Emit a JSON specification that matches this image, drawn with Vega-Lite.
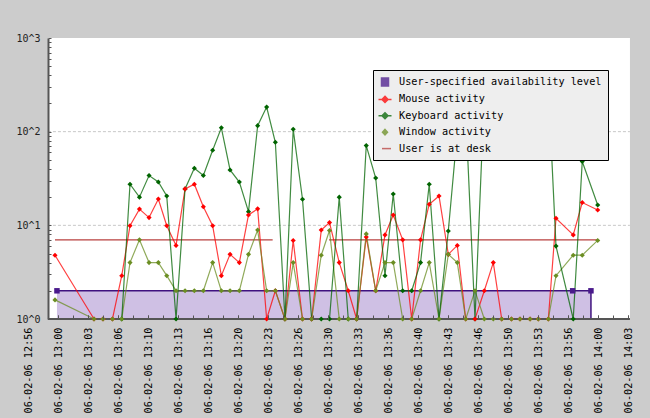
{
  "$schema": "https://vega.github.io/schema/vega-lite/v6.json",
  "width": 602,
  "height": 281,
  "autosize": {"type": "none"},
  "padding": {"left": 28, "top": 38, "right": 20, "bottom": 99},
  "background": "#cccccc",
  "config": {"view": {"stroke": null, "fill": null}, "font": "DejaVu Sans Mono"},
  "resolve": {"scale": {"x": "shared"}, "axis": {"x": "independent"}},
  "datasets": {
    "plot": [{"t": "2006-02-06T12:58:53Z", "t2": "2006-02-06T14:03:33Z"}],
    "grid": [
      {"t": "2006-02-06T12:58:53Z", "t2": "2006-02-06T14:03:33Z", "v": 10},
      {"t": "2006-02-06T12:58:53Z", "t2": "2006-02-06T14:03:33Z", "v": 100}
    ],
    "avail": [
      {"t": "2006-02-06T12:59:53Z", "v": 2},
      {"t": "2006-02-06T13:57:11Z", "v": 2},
      {"t": "2006-02-06T13:59:13Z", "v": 2}
    ],
    "desk": [
      {"t": "2006-02-06T12:59:40Z", "t2": "2006-02-06T13:23:51Z", "v": 7},
      {"t": "2006-02-06T13:30:07Z", "t2": "2006-02-06T14:00:00Z", "v": 7}
    ],
    "act": [
      {"t":"2006-02-06T12:59:40Z","Mouse activity":4.8,"Window activity":1.6},
      {"t":"2006-02-06T13:04:00Z","Mouse activity":1,"Window activity":1},
      {"t":"2006-02-06T13:05:00Z","Mouse activity":1,"Window activity":1},
      {"t":"2006-02-06T13:06:03Z","Mouse activity":1,"Window activity":1},
      {"t":"2006-02-06T13:07:05Z","Mouse activity":2.9,"Keyboard activity":1,"Window activity":1},
      {"t":"2006-02-06T13:08:00Z","Mouse activity":9.9,"Keyboard activity":27.5,"Window activity":4},
      {"t":"2006-02-06T13:09:03Z","Mouse activity":14.9,"Keyboard activity":20,"Window activity":7},
      {"t":"2006-02-06T13:10:07Z","Mouse activity":12.1,"Keyboard activity":34,"Window activity":4},
      {"t":"2006-02-06T13:11:09Z","Mouse activity":19.1,"Keyboard activity":29,"Window activity":4},
      {"t":"2006-02-06T13:12:05Z","Mouse activity":9.9,"Keyboard activity":20.6,"Window activity":2.9},
      {"t":"2006-02-06T13:13:07Z","Mouse activity":6.1,"Keyboard activity":1,"Window activity":2},
      {"t":"2006-02-06T13:14:07Z","Mouse activity":24.5,"Keyboard activity":24.5,"Window activity":2},
      {"t":"2006-02-06T13:15:09Z","Mouse activity":27.5,"Keyboard activity":40.7,"Window activity":2},
      {"t":"2006-02-06T13:16:09Z","Mouse activity":15.8,"Keyboard activity":34,"Window activity":2},
      {"t":"2006-02-06T13:17:11Z","Mouse activity":9.9,"Keyboard activity":63.4,"Window activity":4},
      {"t":"2006-02-06T13:18:09Z","Mouse activity":2.9,"Keyboard activity":110,"Window activity":2},
      {"t":"2006-02-06T13:19:07Z","Mouse activity":4.9,"Keyboard activity":39,"Window activity":2},
      {"t":"2006-02-06T13:20:09Z","Mouse activity":4,"Keyboard activity":29,"Window activity":2},
      {"t":"2006-02-06T13:21:10Z","Mouse activity":12.9,"Keyboard activity":14,"Window activity":4.9},
      {"t":"2006-02-06T13:22:11Z","Mouse activity":15,"Keyboard activity":116,"Window activity":8.9},
      {"t":"2006-02-06T13:23:11Z","Mouse activity":1,"Keyboard activity":183,"Window activity":2},
      {"t":"2006-02-06T13:24:09Z","Mouse activity":2,"Keyboard activity":77,"Window activity":2},
      {"t":"2006-02-06T13:25:13Z","Mouse activity":1,"Keyboard activity":1,"Window activity":1},
      {"t":"2006-02-06T13:26:08Z","Mouse activity":6.9,"Keyboard activity":106,"Window activity":4},
      {"t":"2006-02-06T13:27:10Z","Mouse activity":1,"Keyboard activity":19,"Window activity":1},
      {"t":"2006-02-06T13:28:11Z","Mouse activity":1,"Keyboard activity":1,"Window activity":1},
      {"t":"2006-02-06T13:29:15Z","Mouse activity":8.9,"Keyboard activity":1,"Window activity":4.8},
      {"t":"2006-02-06T13:30:10Z","Mouse activity":10.7,"Keyboard activity":1,"Window activity":8.8},
      {"t":"2006-02-06T13:31:15Z","Mouse activity":4,"Keyboard activity":20,"Window activity":1},
      {"t":"2006-02-06T13:32:15Z","Mouse activity":2,"Keyboard activity":1,"Window activity":1},
      {"t":"2006-02-06T13:33:11Z","Mouse activity":1,"Keyboard activity":1,"Window activity":1},
      {"t":"2006-02-06T13:34:15Z","Mouse activity":7.5,"Keyboard activity":71,"Window activity":8.1},
      {"t":"2006-02-06T13:35:18Z","Mouse activity":2,"Keyboard activity":32,"Window activity":2},
      {"t":"2006-02-06T13:36:20Z","Mouse activity":7.9,"Keyboard activity":2.9,"Window activity":4},
      {"t":"2006-02-06T13:37:15Z","Mouse activity":12.9,"Keyboard activity":21.6,"Window activity":4},
      {"t":"2006-02-06T13:38:18Z","Mouse activity":7,"Keyboard activity":2,"Window activity":1},
      {"t":"2006-02-06T13:39:18Z","Mouse activity":1,"Keyboard activity":2,"Window activity":1},
      {"t":"2006-02-06T13:40:17Z","Mouse activity":7,"Keyboard activity":4,"Window activity":2},
      {"t":"2006-02-06T13:41:15Z","Mouse activity":16.8,"Keyboard activity":27.5,"Window activity":4},
      {"t":"2006-02-06T13:42:20Z","Mouse activity":20.6,"Keyboard activity":1,"Window activity":1},
      {"t":"2006-02-06T13:43:22Z","Mouse activity":4.9,"Keyboard activity":8.7,"Window activity":4.9},
      {"t":"2006-02-06T13:44:22Z","Mouse activity":6.1,"Keyboard activity":100,"Window activity":4},
      {"t":"2006-02-06T13:45:18Z","Mouse activity":1,"Keyboard activity":161,"Window activity":1},
      {"t":"2006-02-06T13:46:20Z","Mouse activity":1,"Keyboard activity":1,"Window activity":2},
      {"t":"2006-02-06T13:47:22Z","Mouse activity":2,"Keyboard activity":253,"Window activity":1},
      {"t":"2006-02-06T13:48:22Z","Mouse activity":4,"Window activity":1},
      {"t":"2006-02-06T13:49:18Z","Mouse activity":1,"Window activity":1},
      {"t":"2006-02-06T13:50:23Z","Mouse activity":1,"Window activity":1},
      {"t":"2006-02-06T13:51:20Z","Mouse activity":1,"Window activity":1},
      {"t":"2006-02-06T13:52:27Z","Mouse activity":1,"Window activity":1},
      {"t":"2006-02-06T13:53:22Z","Mouse activity":1,"Window activity":1},
      {"t":"2006-02-06T13:54:29Z","Mouse activity":1,"Keyboard activity":309,"Window activity":1},
      {"t":"2006-02-06T13:55:20Z","Mouse activity":11.9,"Keyboard activity":6,"Window activity":2.9},
      {"t":"2006-02-06T13:57:15Z","Mouse activity":7.9,"Keyboard activity":1,"Window activity":4.8},
      {"t":"2006-02-06T13:58:15Z","Mouse activity":17.5,"Keyboard activity":48,"Window activity":4.8},
      {"t":"2006-02-06T13:59:58Z","Mouse activity":14.6,"Keyboard activity":16.5,"Window activity":6.9}
    ]
  },
  "layer": [
    {
      "data": {"name": "plot"},
      "mark": {"type": "rect", "fill": "#ffffff"},
      "encoding": {
        "x": {
          "field": "t", "type": "temporal", "title": null,
          "scale": {"type": "utc", "domain": [1139230600000, 1139234613333]},
          "axis": {
            "orient": "bottom",
            "values": [1139230600000,1139230800000,1139231000000,1139231200000,1139231400000,1139231600000,1139231800000,1139232000000,1139232200000,1139232400000,1139232600000,1139232800000,1139233000000,1139233200000,1139233400000,1139233600000,1139233800000,1139234000000,1139234200000,1139234400000,1139234600000],
            "labelExpr": "utcFormat(datum.value, '%y-%m-%d %H:%M')",
            "labelAngle": 270,
            "labelFont": "DejaVu Sans Mono",
            "labelFontSize": 10.2,
            "labelColor": "#000000",
            "labelPadding": 12,
            "labelOverlap": false,
            "labelFlush": false,
            "domain": false,
            "grid": false,
            "tickColor": "#555555",
            "tickSize": -4,
            "tickWidth": 1,
            "tickOpacity": {"condition": {"test": "+datum.value < 1139230733000", "value": 0}, "value": 1},
            "zindex": 1
          }
        },
        "x2": {"field": "t2"},
        "y": {
          "datum": 1, "type": "quantitative", "title": null,
          "scale": {"type": "log", "domain": [1, 1000], "nice": false},
          "axis": {
            "values": [1,2,3,4,5,6,7,8,9,10,20,30,40,50,60,70,80,90,100,200,300,400,500,600,700,800,900,1000],
            "labelExpr": "datum.value == 1 ? '10^0' : datum.value == 10 ? '10^1' : datum.value == 100 ? '10^2' : datum.value == 1000 ? '10^3' : ''",
            "offset": -20,
            "domainColor": "#555555",
            "domainWidth": 2,
            "tickColor": "#555555",
            "tickSize": -3,
            "labelFont": "DejaVu Sans Mono",
            "labelFontSize": 10,
            "labelColor": "#222222",
            "labelPadding": 11,
            "labelOverlap": false,
            "labelFlush": false,
            "grid": false,
            "zindex": 1
          }
        },
        "y2": {"datum": 1000}
      }
    },
    {
      "data": {"name": "grid"},
      "mark": {"type": "rule", "color": "#c8c8c8", "strokeDash": [3, 2], "strokeWidth": 1},
      "encoding": {
        "x": {
          "field": "t", "type": "temporal", "title": null,
          "axis": {
            "orient": "bottom",
            "values": [1139230600000,1139230700000,1139230800000,1139230900000,1139231000000,1139231100000,1139231200000,1139231300000,1139231400000,1139231500000,1139231600000,1139231700000,1139231800000,1139231900000,1139232000000,1139232100000,1139232200000,1139232300000,1139232400000,1139232500000,1139232600000,1139232700000,1139232800000,1139232900000,1139233000000,1139233100000,1139233200000,1139233300000,1139233400000,1139233500000,1139233600000,1139233700000,1139233800000,1139233900000,1139234000000,1139234100000,1139234200000,1139234300000,1139234400000,1139234500000,1139234600000],
            "labels": false,
            "domain": false,
            "grid": false,
            "tickColor": "#555555",
            "tickSize": -4,
            "tickWidth": 1,
            "tickOpacity": {"condition": {"test": "+datum.value < 1139230733000", "value": 0}, "value": 1},
            "zindex": 1
          }
        },
        "x2": {"field": "t2"},
        "y": {"field": "v", "type": "quantitative", "title": null}
      }
    },
    {
      "data": {"name": "avail"},
      "mark": {"type": "area", "fill": "#cfc0e4", "opacity": 1, "line": {"color": "#3f127f", "strokeWidth": 1.5}},
      "encoding": {
        "x": {"field": "t", "type": "temporal", "title": null, "axis": null},
        "y": {"field": "v", "type": "quantitative", "title": null},
        "y2": {"datum": 1}
      }
    },
    {
      "data": {"name": "avail"},
      "mark": {"type": "rule", "color": "#3f127f", "strokeWidth": 1.5},
      "encoding": {
        "x": {"aggregate": "max", "field": "t", "type": "temporal", "title": null, "axis": null},
        "y": {"aggregate": "max", "field": "v", "type": "quantitative", "title": null},
        "y2": {"datum": 1}
      }
    },
    {
      "data": {"name": "desk"},
      "mark": {"type": "rule", "color": "#b8413f", "strokeWidth": 1.3},
      "encoding": {
        "x": {"field": "t", "type": "temporal", "title": null, "axis": null},
        "x2": {"field": "t2"},
        "y": {"field": "v", "type": "quantitative", "title": null}
      }
    },
    {
      "data": {"name": "act"},
      "transform": [
        {"fold": ["Keyboard activity", "Mouse activity", "Window activity"], "as": ["s", "v"]},
        {"filter": "isValid(datum.v)"}
      ],
      "mark": {"type": "line", "strokeWidth": 1.2, "opacity": 0.75},
      "encoding": {
        "x": {"field": "t", "type": "temporal", "title": null, "axis": null},
        "y": {"field": "v", "type": "quantitative", "title": null},
        "color": {
          "field": "s", "type": "nominal",
          "scale": {
            "domain": ["User-specified availability level", "Mouse activity", "Keyboard activity", "Window activity", "User is at desk"],
            "range": ["#4a1a8c", "#ff0000", "#006400", "#6b8e23", "#b8413f"]
          }
        }
      }
    },
    {
      "data": {"name": "plot"},
      "mark": {"type": "rule", "color": "#555555", "strokeWidth": 2},
      "encoding": {
        "x": {"field": "t", "type": "temporal", "title": null, "axis": null},
        "x2": {"field": "t2"},
        "y": {"datum": 1}
      }
    },
    {
      "data": {"name": "avail"},
      "mark": {"type": "point", "shape": "square", "filled": true, "size": 30, "color": "#4a1a8c", "opacity": 1},
      "encoding": {
        "x": {"field": "t", "type": "temporal", "title": null, "axis": null},
        "y": {"field": "v", "type": "quantitative", "title": null}
      }
    },
    {
      "data": {"name": "act"},
      "transform": [
        {"fold": ["Keyboard activity", "Mouse activity", "Window activity"], "as": ["s", "v"]},
        {"filter": "isValid(datum.v)"}
      ],
      "mark": {"type": "point", "shape": "diamond", "filled": true, "size": 26, "opacity": 1},
      "encoding": {
        "x": {"field": "t", "type": "temporal", "title": null, "axis": null},
        "y": {"field": "v", "type": "quantitative", "title": null},
        "color": {
          "field": "s", "type": "nominal",
          "legend": {
            "title": null,
            "orient": "none",
            "legendX": 345,
            "legendY": 32,
            "fillColor": "#eeeeee",
            "strokeColor": "#000000",
            "padding": 6,
            "labelFont": "DejaVu Sans Mono",
            "labelFontSize": 10.2,
            "labelColor": "#000000",
            "labelLimit": 400,
            "symbolSize": 100,
            "labelOffset": 8,
            "rowPadding": 4.4,
            "zindex": 1,
            "symbolType": {"expr": "datum.value === 'User-specified availability level' ? 'M-0.7,-0.8H0.7V0.8H-0.7Z' : datum.value === 'Window activity' ? 'M0,-0.55L0.5,0L0,0.55L-0.5,0Z' : datum.value === 'User is at desk' ? 'M-0.6,0H1.2' : 'M-1.3,0H1.3M0,-0.6L0.6,0L0,0.6L-0.6,0Z'"},
            "symbolStrokeColor": {"expr": "scale('color', datum.value)"},
            "symbolStrokeWidth": 1.5,
            "symbolOpacity": 1
          }
        }
      }
    }
  ]
}
